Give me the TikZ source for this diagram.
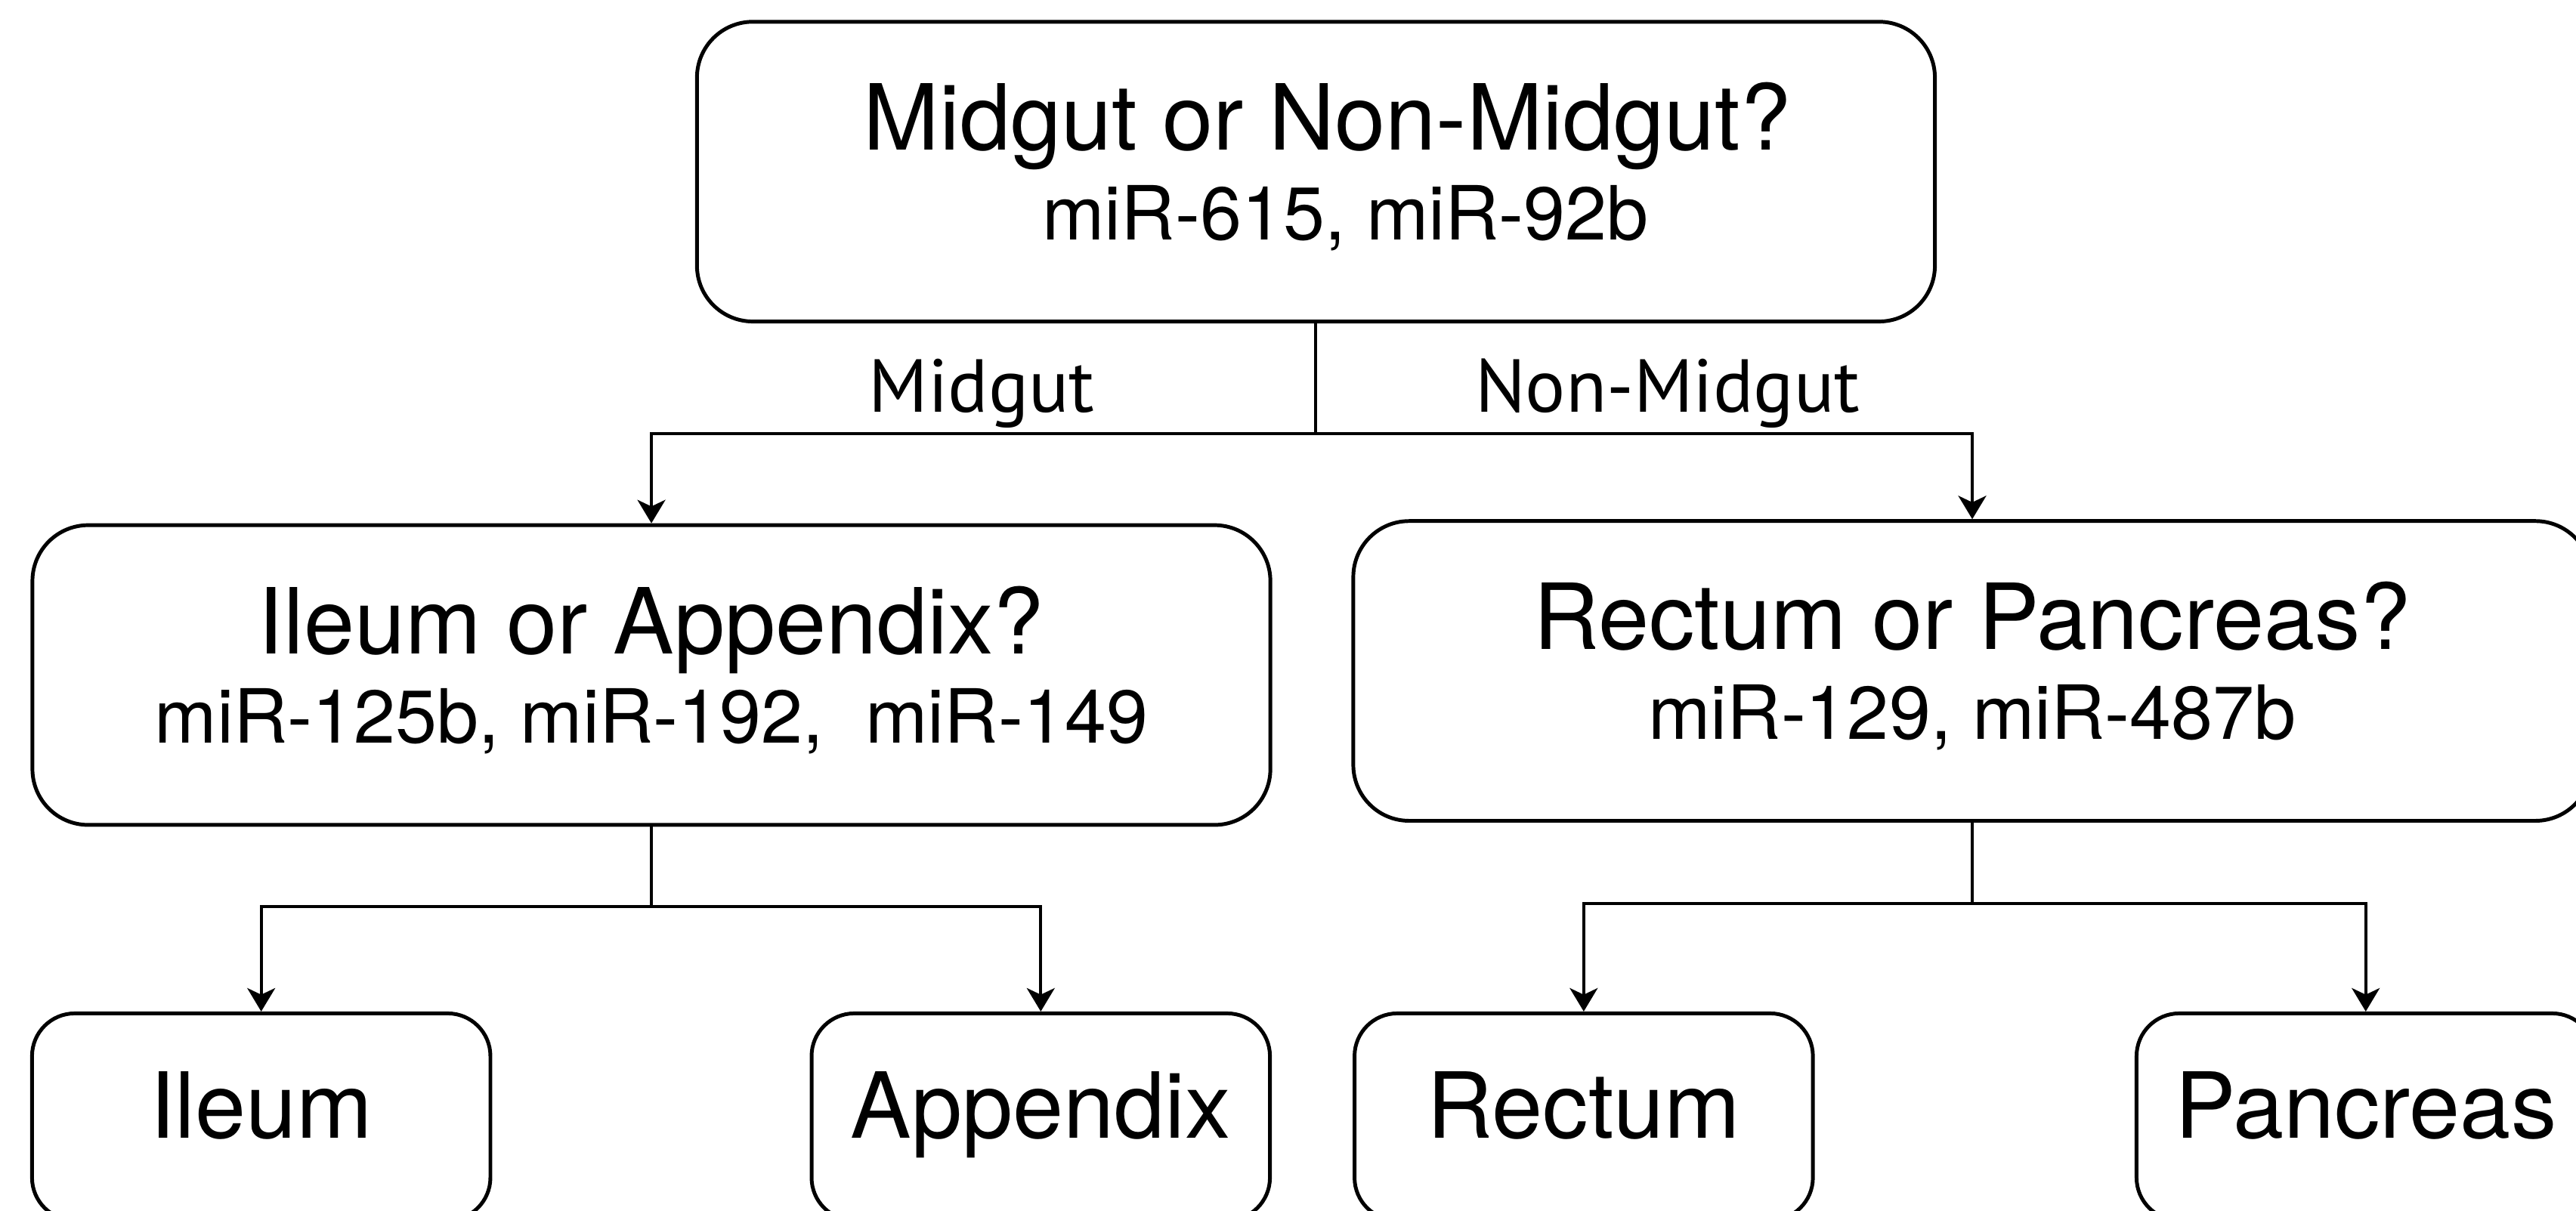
\documentclass[tikz,border=0pt]{standalone}
\usepackage{fontspec}
\setmainfont{TeX Gyre Heros}
\newfontfamily\branchfam{PT Sans}
\usetikzlibrary{positioning, arrows.meta}
\newcommand{\qfont}{\fontsize{31.6}{31}\selectfont}
\newcommand{\mirfont}{\fontsize{25.9}{31}\selectfont}
\newcommand{\branchfont}{\branchfam\fontsize{26}{28}\selectfont}
\tikzset{
  qbox/.style={draw, line width=1.3pt, rounded corners=6.8mm, inner sep=0pt,
    align=center, minimum width=150.7mm, minimum height=36.5mm, font=\mirfont,
    text height=16.6mm, text depth=0pt},
  leafbox/.style={draw, line width=1.3pt, rounded corners=5.2mm, inner sep=0pt,
    minimum width=55.8mm, minimum height=25.2mm, font=\qfont,
    text height=5.2mm, text depth=0pt},
  link/.style={line width=1.05pt},
}

\begin{document}
\begin{tikzpicture}[x=0.2mm, y=0.2mm, >={Stealth[length=2.85mm, width=3.4mm, inset=0.8mm]}]
    \useasboundingbox (0,0) rectangle (1568,737);
    \clip (0,0) rectangle (1568,737);
    % question boxes (top one: text sits a little right of centre)
    \node[qbox] (qgut) at (801,632.5) {\hspace*{2.8mm}{\qfont Midgut or Non-Midgut?}\\ \hspace*{7.2mm}miR-615, miR-92b};
    \node[qbox] (qileum) at (396.5,326) {{\qfont Ileum or Appendix?}\\ miR-125b, miR-192,\ \ miR-149};
    \node[qbox] (qrectum) at (1200.5,328.5) {{\qfont Rectum or Pancreas?}\\ miR-129, miR-487b};
    % leaves
    \node[leafbox] (ileum) at (159,57) {Ileum};
    \node[leafbox] (appendix) at (633.5,57) {Appendix};
    \node[leafbox] (rectum) at (964,57) {Rectum};
    \node[leafbox] (pancreas) at (1440,57) {Pancreas};
    % split points
    \coordinate (sgut) at (801,473);
    \coordinate (sileum) at (396.5,185);
    \coordinate (srectum) at (1200.5,187);
    % connectors
    \draw[link] (qgut.south) -- (sgut);
    \draw[link, ->] (sgut) -| (qileum.north);
    \draw[link, ->] (sgut) -| (qrectum.north);
    \draw[link] (qileum.south) -- (sileum);
    \draw[link, ->] (sileum) -| (ileum.north);
    \draw[link, ->] (sileum) -| (appendix.north);
    \draw[link] (qrectum.south) -- (srectum);
    \draw[link, ->] (srectum) -| (rectum.north);
    \draw[link, ->] (srectum) -| (pancreas.north);
    % branch labels
    \node[anchor=base, font=\branchfont] (lmid) at (597.5,486.3) {Midgut};
    \node[anchor=base, font=\branchfont] (lnon) at (1015,486.3) {Non-Midgut};
\end{tikzpicture}
\end{document}
